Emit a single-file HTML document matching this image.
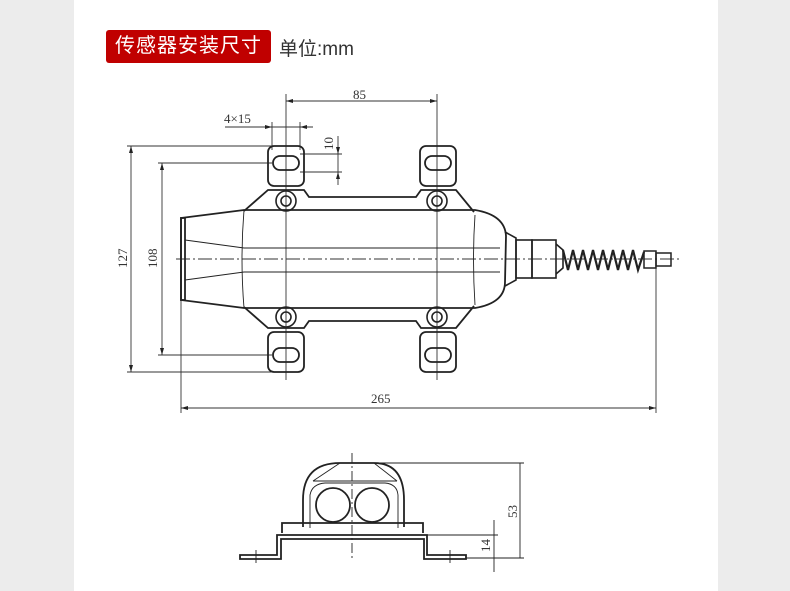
<!DOCTYPE html>
<html><head><meta charset="utf-8"><style>
body{margin:0;width:790px;height:591px;background:#fff;position:relative;overflow:hidden;font-family:"Liberation Sans","Noto Sans CJK SC",sans-serif}
.gl{position:absolute;top:0;left:0;width:74px;height:591px;background:#ececec}
.gr{position:absolute;top:0;right:0;width:72px;height:591px;background:#ececec}
.tag{position:absolute;left:106px;top:30px;width:165px;height:33px;background:#c00000;border-radius:3px;color:#fff;font-size:20px;line-height:33px;text-align:center;letter-spacing:1px}
.unit{position:absolute;left:279px;top:34px;font-size:19px;color:#333}
svg{position:absolute;left:0;top:0}
</style></head><body>
<div class="gl"></div><div class="gr"></div>
<div class="tag">传感器安装尺寸</div>
<div class="unit">单位:mm</div>
<svg width="790" height="591" viewBox="0 0 790 591" fill="none" stroke="#222" stroke-width="1">
<g stroke-width="0.9" stroke="#333">
<line x1="286" y1="94" x2="286" y2="380"/><line x1="437" y1="94" x2="437" y2="380"/>
<line x1="286" y1="101" x2="437" y2="101"/>
<line x1="225" y1="127" x2="313" y2="127"/>
<line x1="272" y1="122" x2="272" y2="150"/><line x1="300" y1="122" x2="300" y2="150"/>
<line x1="300" y1="154" x2="342" y2="154"/><line x1="300" y1="172" x2="342" y2="172"/>
<line x1="338" y1="136" x2="338" y2="185"/>
<line x1="127" y1="146" x2="280" y2="146"/><line x1="127" y1="372" x2="280" y2="372"/>
<line x1="131" y1="146" x2="131" y2="372"/>
<line x1="158" y1="163" x2="272" y2="163"/><line x1="158" y1="355" x2="272" y2="355"/>
<line x1="162" y1="163" x2="162" y2="355"/>
<line x1="181" y1="300" x2="181" y2="413"/><line x1="656" y1="268" x2="656" y2="413"/>
<line x1="181" y1="408" x2="656" y2="408"/>
<line x1="176" y1="259" x2="680" y2="259" stroke-dasharray="14 3 2 3"/>
</g>
<g fill="#222" stroke="none">
<path d="M286 101l7-2v4zM437 101l-7-2v4zM131 146l-2 7h4zM131 372l-2-7h4zM162 163l-2 7h4zM162 355l-2-7h4zM181 408l7-2v4zM656 408l-7-2v4zM338 154l-2-7h4zM338 172l-2 7h4zM272 127l-7-2v4zM300 127l7-2v4z"/>
</g>
<g font-family="Liberation Serif,serif" font-size="13" fill="#333" stroke="none">
<text x="353" y="99">85</text>
<text x="224" y="123">4×15</text>
<text transform="translate(333,150) rotate(-90)">10</text>
<text transform="translate(127,268) rotate(-90)">127</text>
<text transform="translate(157,268) rotate(-90)">108</text>
<text x="371" y="403">265</text>
<text transform="translate(517,518) rotate(-90)">53</text>
<text transform="translate(490,552) rotate(-90)">14</text>
</g>
<g stroke-width="1.8">
<rect x="268" y="146" width="36" height="40" rx="6"/><rect x="420" y="146" width="36" height="40" rx="6"/>
<rect x="268" y="332" width="36" height="40" rx="6"/><rect x="420" y="332" width="36" height="40" rx="6"/>
<rect x="273" y="156" width="26" height="14" rx="7"/><rect x="425" y="156" width="26" height="14" rx="7"/>
<rect x="273" y="348" width="26" height="14" rx="7"/><rect x="425" y="348" width="26" height="14" rx="7"/>
<path d="M244 211L268 190H304L309 197H416L421 190H456L474 212"/>
<path d="M244 307L268 328H304L309 321H416L421 328H456L474 306"/>
<path d="M181 218L244 210H475Q505 215 506 236L505 282Q505 303 475 308H244L181 300Z"/>
<rect x="181" y="218" width="4" height="82"/>
</g>
<g stroke-width="0.9">
<path d="M185 240L244 248H500M185 280L244 272H500M244 210Q240 259 244 308M475 215Q472 259 475 305"/>
</g>
<g stroke-width="1.6">
<circle cx="286" cy="201" r="10"/><circle cx="286" cy="201" r="5"/>
<circle cx="437" cy="201" r="10"/><circle cx="437" cy="201" r="5"/>
<circle cx="286" cy="317" r="10"/><circle cx="286" cy="317" r="5"/>
<circle cx="437" cy="317" r="10"/><circle cx="437" cy="317" r="5"/>
<path d="M505 232L516 238V280L505 286"/>
<rect x="516" y="240" width="16" height="38"/><rect x="532" y="240" width="24" height="38"/>
<path d="M556 244L563 250V268L556 274"/>
</g>
<path stroke-width="2.2" d="M563 250L568 270L573 250L578 270L583 250L588 270L593 250L598 270L603 250L608 270L613 250L618 270L623 250L628 270L633 250L638 270L644 252"/>
<g stroke-width="1.5">
<rect x="644" y="251" width="12" height="17"/><rect x="656" y="253" width="15" height="13"/>
</g>
<!-- bottom view -->
<g stroke-width="1.8">
<path d="M303 527V500Q303 463 340 463H374Q404 463 404 500V527"/>
<circle cx="333" cy="505" r="17"/><circle cx="372" cy="505" r="17"/>
<path d="M282 533V523H423V533"/>
<path d="M240 555H277V535H427V555H466V559H424V539H281V559H240Z"/>
</g>
<g stroke-width="0.9">
<path d="M313 481L340 463M397 481L374 463M313 481H397"/>
<path d="M310 528V495Q312 484 325 483H385Q397 484 398 495V528"/>
<line x1="352" y1="453" x2="352" y2="560" stroke-dasharray="10 3 2 3"/>
<line x1="374" y1="463" x2="524" y2="463"/><line x1="427" y1="535" x2="498" y2="535"/>
<line x1="466" y1="558" x2="524" y2="558"/>
<line x1="520" y1="463" x2="520" y2="558"/><line x1="494" y1="520" x2="494" y2="572"/>
<line x1="256" y1="550" x2="256" y2="563"/><line x1="450" y1="550" x2="450" y2="563"/>
</g>
</svg>
</body></html>
